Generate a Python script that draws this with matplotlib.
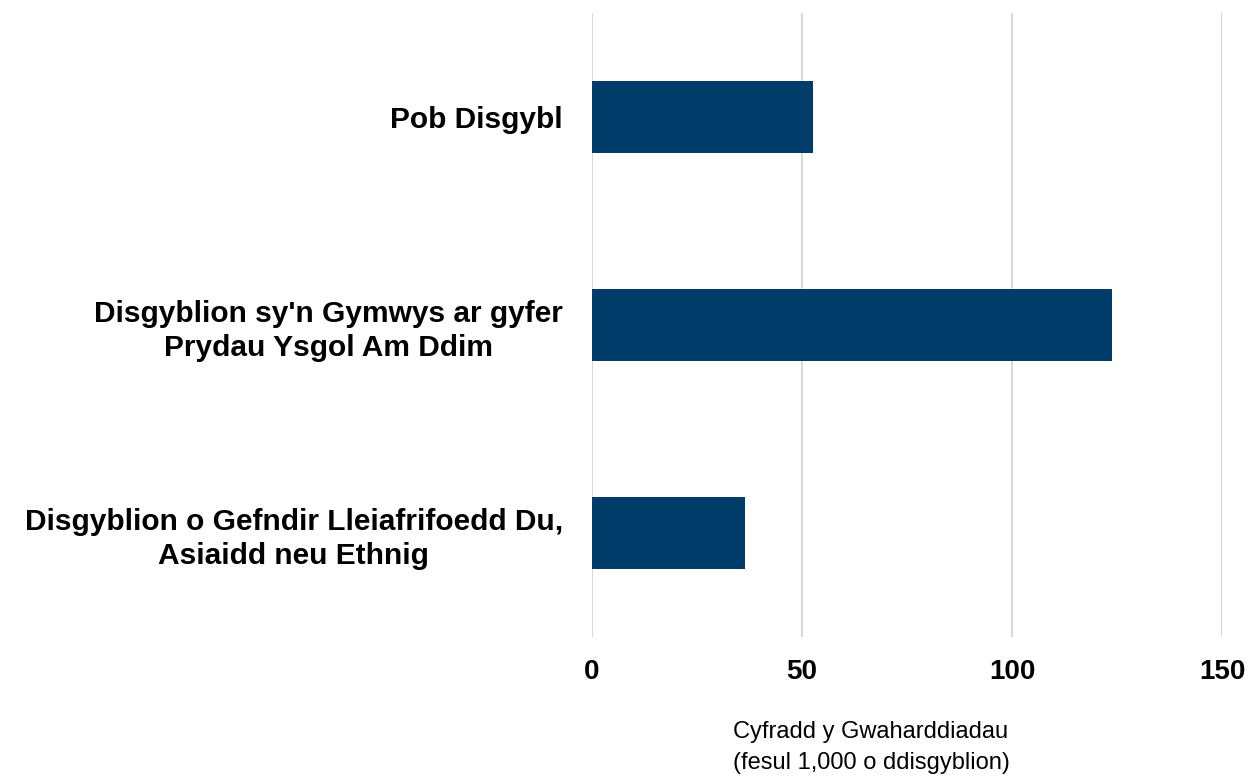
import matplotlib
matplotlib.use("Agg")
import matplotlib.pyplot as plt

categories = ["Pob Disgybl",
              "Disgyblion sy'n Gymwys ar gyfer\nPrydau Ysgol Am Ddim",
              "Disgyblion o Gefndir Lleiafrifoedd Du,\nAsiaidd neu Ethnig"]
values = [52.6, 123.8, 36.4]
xticks = [0, 50, 100, 150]
xlabel = "Cyfradd y Gwaharddiadau\n(fesul 1,000 o ddisgyblion)"

plt.rcParams['font.family'] = ['Liberation Sans', 'DejaVu Sans']

fig = plt.figure(figsize=(12.58, 7.79), dpi=100)
ax = fig.add_axes([592/1258, 1-637/779, (1222-592)/1258, (637-13)/779])

ypos = list(range(len(categories)))
ax.barh(ypos, values, height=0.35, color='#003D6B', zorder=3)
ax.set_ylim(2.5, -0.5)
ax.set_xlim(0, 150)
ax.set_xticks(xticks)
ax.set_xticklabels([str(t) for t in xticks], fontsize=20, fontweight='bold')
ax.set_yticks(ypos)
ylabels = ax.set_yticklabels(categories, fontsize=21.5, fontweight='bold', multialignment='center')
for t in ylabels:
    t.set_linespacing(1.25)
ax.tick_params(axis='y', length=0, pad=21)
ax.tick_params(axis='x', length=0, pad=16)
ax.grid(axis='x', color='#d9d9d9', linewidth=1.5, zorder=0)
for s in ax.spines.values():
    s.set_visible(False)

fig.text(733/1258, 1-721/779, xlabel, fontsize=17, ha='left', va='top',
         multialignment='left', linespacing=1.5)

fig.savefig("out.png", dpi=100)
